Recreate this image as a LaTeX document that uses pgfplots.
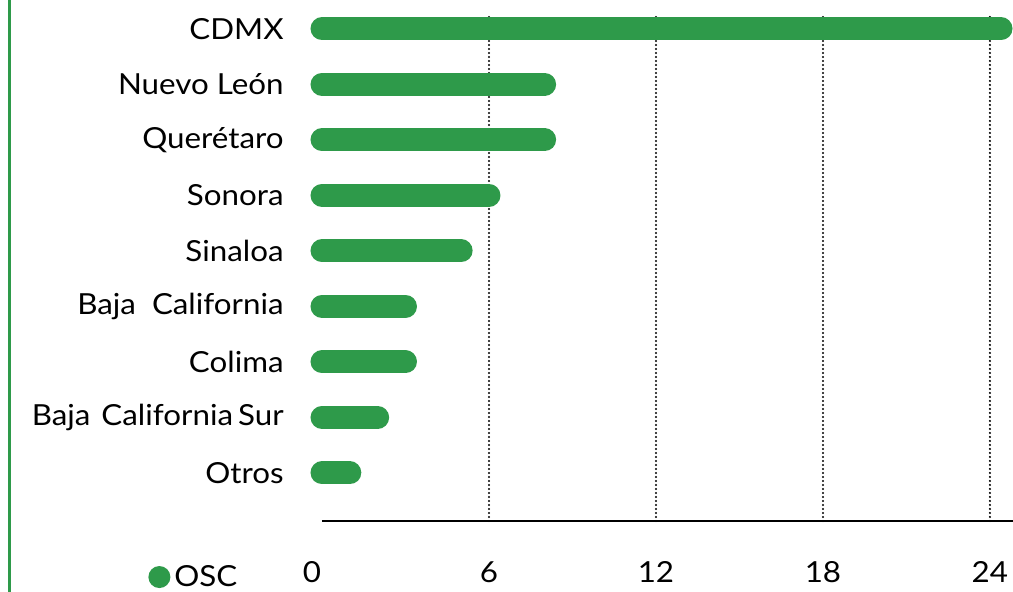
\documentclass[border=0pt]{standalone}
\usepackage{fontspec}
\setmainfont{Lato}[FakeStretch=1.08]
\usepackage{pgfplots}
\pgfplotsset{compat=1.18}
\definecolor{barg}{RGB}{46,154,74}
\begin{document}
\begin{tikzpicture}
\useasboundingbox (0,0) rectangle (506.5pt,296pt);
\draw[barg, line width=1.5pt] (4.85pt,0) -- (4.85pt,296pt);
\begin{axis}[
 at={(161pt,35.5pt)}, anchor=south west,
 scale only axis, width=345.5pt, height=252.5pt,
 xmin=0, xmax=24.83, ymin=-0.865, ymax=8.23,
 clip=false,
 axis x line*=bottom, axis y line*=left,
 x axis line style={line width=1pt, black, -},
 y axis line style={draw=none},
 major tick length=0pt,
 tick style={draw=none},
 xtick={6,12,18,24},
 extra x ticks={0}, extra x tick labels={0\hspace*{10pt}},
 extra x tick style={grid=none},
 xmajorgrids,
 grid style={black, line width=1.15pt, line cap=round, dash pattern=on 0pt off 2pt},
 ytick={0,...,8},
 yticklabels={Otros, Baja\hspace{5.5pt}California\hspace{2.5pt}Sur, Colima, Baja\ \ California, Sinaloa, Sonora, Querétaro, Nuevo León, CDMX},
 tick label style={font=\fontsize{14.5pt}{17pt}\selectfont},
 yticklabel style={anchor=east, inner sep=0pt, xshift=-19pt},
 xticklabel style={anchor=base, inner sep=0pt, yshift=-31pt},
 /pgf/number format/assume math mode=true,
 legend style={at={(-0.2518,-0.111)}, anchor=west, draw=none, fill=none, inner sep=0pt,
   font=\fontsize{14.5pt}{17pt}\selectfont},
 legend cell align=left,
]
\addplot[xcomb, barg, line width=11.5pt, line cap=round,
  legend image code/.code={\path[fill=barg, draw=none] (0pt,0pt) circle (5.5pt);}]
  coordinates {(24.4,8) (8,7) (8,6) (6,5) (5,4) (3,3) (3,2) (2,1) (1,0)};
\addlegendentry{OSC}
\end{axis}
\end{tikzpicture}
\end{document}
